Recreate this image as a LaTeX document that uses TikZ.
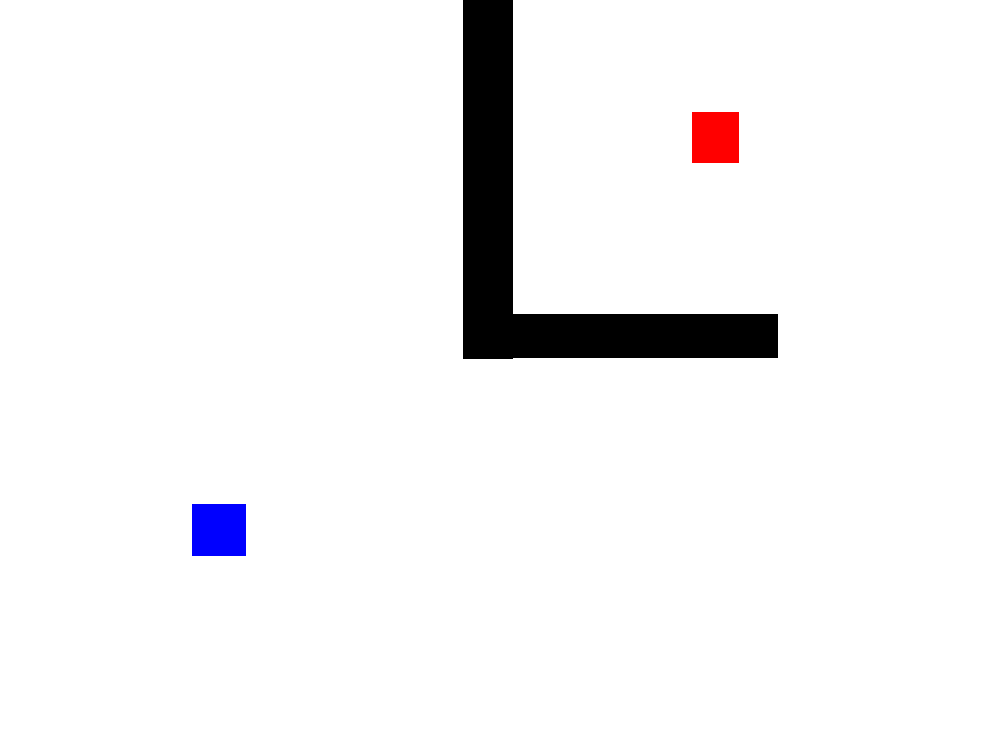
\documentclass[tikz,border=0pt]{standalone}
\usepackage{xcolor}
\usepackage{tikz}
\tikzset{
  wall/.style={fill=black, draw=none},
  goalbox/.style={fill=red, draw=none},
  agentbox/.style={fill=blue, draw=none}
}
\begin{document}
\begin{tikzpicture}
  % canvas
  \fill[white] (0,0) rectangle (10,7.5);
  \useasboundingbox (0,0) rectangle (10,7.5);

  % walls
  \fill[wall] (4.63,7.5) rectangle (5.13,3.91);
  \fill[wall] (5.13,4.36) rectangle (7.78,3.92);

  % goal and agent
  \fill[goalbox] (6.92,6.38) rectangle (7.39,5.87);
  \fill[agentbox] (1.92,2.46) rectangle (2.46,1.94);
\end{tikzpicture}
\end{document}
